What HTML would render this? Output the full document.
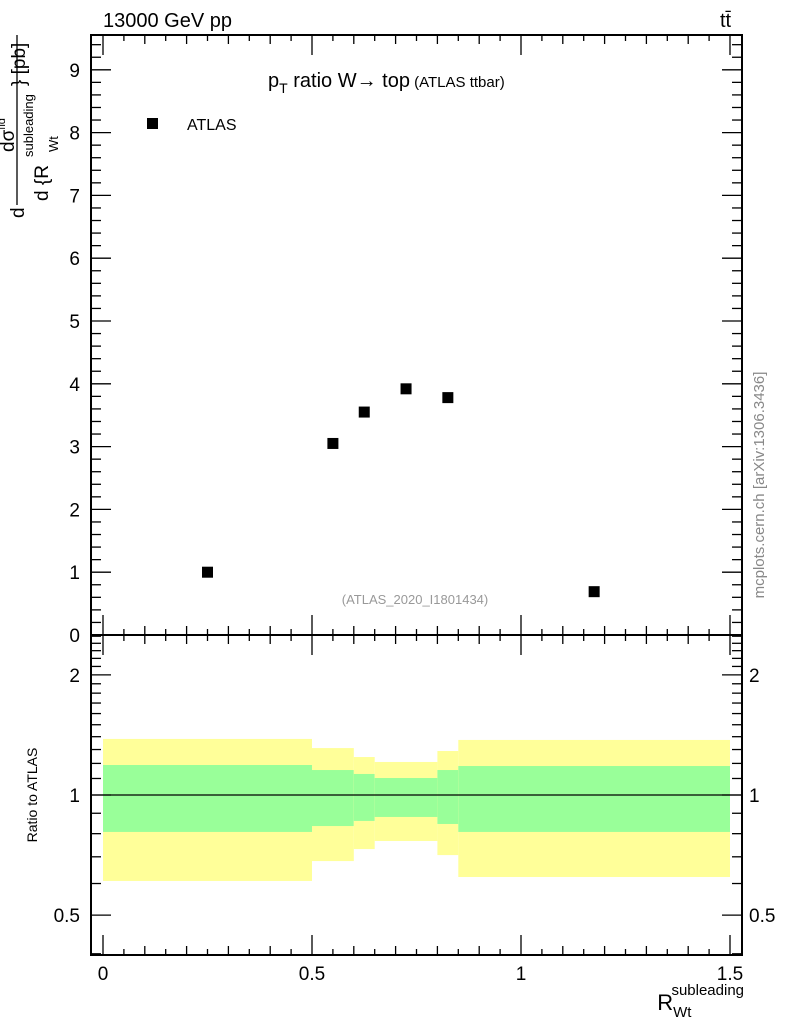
<!DOCTYPE html>
<html><head><meta charset="utf-8"><style>
body{margin:0;background:#fff}
svg{display:block;font-family:"Liberation Sans",sans-serif}
</style></head><body>
<svg id="c" width="786" height="1024" viewBox="0 0 786 1024">
<text x="103" y="27" font-size="20">13000 GeV pp</text>
<text x="720" y="27" font-size="20">tt̄</text>
<text x="268" y="87" font-size="20">p<tspan font-size="14" dy="6">T</tspan><tspan dy="-6"> ratio W→ top</tspan><tspan font-size="15"> (ATLAS ttbar)</tspan></text>
<rect x="147" y="118" width="11" height="11" fill="#000"/>
<text x="187" y="130" font-size="16">ATLAS</text>
<text x="415" y="604" font-size="13" fill="#999" text-anchor="middle">(ATLAS_2020_I1801434)</text>
<text transform="translate(764,485) rotate(-90)" font-size="15" fill="#888" text-anchor="middle">mcplots.cern.ch [arXiv:1306.3436]</text>
<g>
<text transform="translate(24,218) rotate(-90)" font-size="19">d</text>
<line x1="17" y1="35" x2="17" y2="205" stroke="#000" stroke-width="1.3"/>
<text transform="translate(14,152) rotate(-90)" font-size="19">dσ<tspan font-size="11" dy="-9">fid</tspan></text>
<text transform="translate(48,201) rotate(-90)" font-size="19">d {R</text>
<text transform="translate(58,152) rotate(-90)" font-size="13">Wt</text>
<text transform="translate(33,157) rotate(-90)" font-size="13">subleading</text>
<text transform="translate(25,86) rotate(-90)" font-size="19">} [pb]</text>
</g>
<text transform="translate(37,795) rotate(-90)" font-size="14" text-anchor="middle">Ratio to ATLAS</text>
<text x="744" y="1010" font-size="22" text-anchor="end">R<tspan font-size="15" dy="7">Wt</tspan><tspan font-size="15" dx="-20" dy="-22">subleading</tspan></text>
<g id="g"></g>
</svg>
<script>
const binEdges=[0,0.5,0.6,0.65,0.8,0.85,1.5];
const xValues=[0.25,0.55,0.625,0.725,0.825,1.175];
const yValues=[1.0,3.05,3.55,3.92,3.78,0.69];
const yellowHi=[1.382,1.311,1.245,1.21,1.289,1.374];
const yellowLo=[0.609,0.683,0.732,0.767,0.707,0.623];
const greenHi=[1.189,1.155,1.129,1.103,1.155,1.182];
const greenLo=[0.808,0.836,0.861,0.881,0.846,0.808];
const xTicks=["0","0.5","1","1.5"];
const yTicks=["0","1","2","3","4","5","6","7","8","9"];
const rTicks=["0.5","1","2"];

const L=91,R=742,T=35,M=635,B=955;
const X=v=>103+v*418;
const Y=v=>635-v*62.8;
const RY=v=>795-399*Math.log10(v);
const g=document.getElementById('g');
const NS='http://www.w3.org/2000/svg';
function el(t,a){const e=document.createElementNS(NS,t);for(const k in a)e.setAttribute(k,a[k]);g.appendChild(e);return e;}
for(let i=0;i<binEdges.length-1;i++){
 const x0=X(binEdges[i]),x1=X(binEdges[i+1]);
 const y=el('rect',{x:x0,y:RY(yellowHi[i]),width:x1-x0,height:RY(yellowLo[i])-RY(yellowHi[i]),fill:'#ffff99'});
 
 
 const gr=el('rect',{x:x0,y:RY(greenHi[i]),width:x1-x0,height:RY(greenLo[i])-RY(greenHi[i]),fill:'#99ff99'});
 
 
}
const ref=el('line',{x1:L,x2:R,y1:RY(1),y2:RY(1),stroke:'#000','stroke-width':1.2});


for(let i=0;i<xValues.length;i++){
 const p=el('rect',{x:X(xValues[i])-5.5,y:Y(yValues[i])-5.5,width:11,height:11,fill:'#000'});
 
 
}
for(const [t,b,n] of [[T,M,'main-frame'],[M,B,'ratio-frame']]){
 const f=el('rect',{x:L,y:t,width:R-L,height:b-t,fill:'none',stroke:'#000','stroke-width':2});
 
 
}
const tk=(a)=>el('line',Object.assign({stroke:'#000','stroke-width':1.3},a));
for(let k=0;k<=30;k++){
 const v=k*0.05,x=X(v),len=k%10==0?20:(k%2==0?9:6);
 tk({x1:x,x2:x,y1:M,y2:M-len});tk({x1:x,x2:x,y1:T,y2:T+len});
 tk({x1:x,x2:x,y1:M,y2:M+len});tk({x1:x,x2:x,y1:B,y2:B-len});
}
xTicks.forEach(s=>{const t=el('text',{x:X(+s),y:980,'font-size':19,'text-anchor':'middle'});t.textContent=s;
 
 });
for(let k=0;k<=47;k++){
 const v=k*0.2,y=Y(v);if(y<T)break;const len=k%5==0?20:10;
 tk({x1:L,x2:L+len,y1:y,y2:y});tk({x1:R,x2:R-len,y1:y,y2:y});
}
yTicks.forEach(s=>{const t=el('text',{x:80,y:Y(+s)+7,'font-size':19,'text-anchor':'end'});t.textContent=s;
 
 });
[0.4,0.5,0.6,0.7,0.8,0.9,1,1.1,1.2,1.3,1.4,1.5,1.6,1.7,1.8,1.9,2,2.1,2.2,2.3,2.4,2.5].forEach(v=>{
 const y=RY(v);if(y<M||y>B)return;const len=(v==0.5||v==1||v==2)?20:10;
 tk({x1:L,x2:L+len,y1:y,y2:y});tk({x1:R,x2:R-len,y1:y,y2:y});
});
rTicks.forEach(s=>{
 const t=el('text',{x:80,y:RY(+s)+7,'font-size':19,'text-anchor':'end'});t.textContent=s;
 
 
 const t2=el('text',{x:749,y:RY(+s)+7,'font-size':19});t2.textContent=s;
 
 
});
</script>
</body></html>
